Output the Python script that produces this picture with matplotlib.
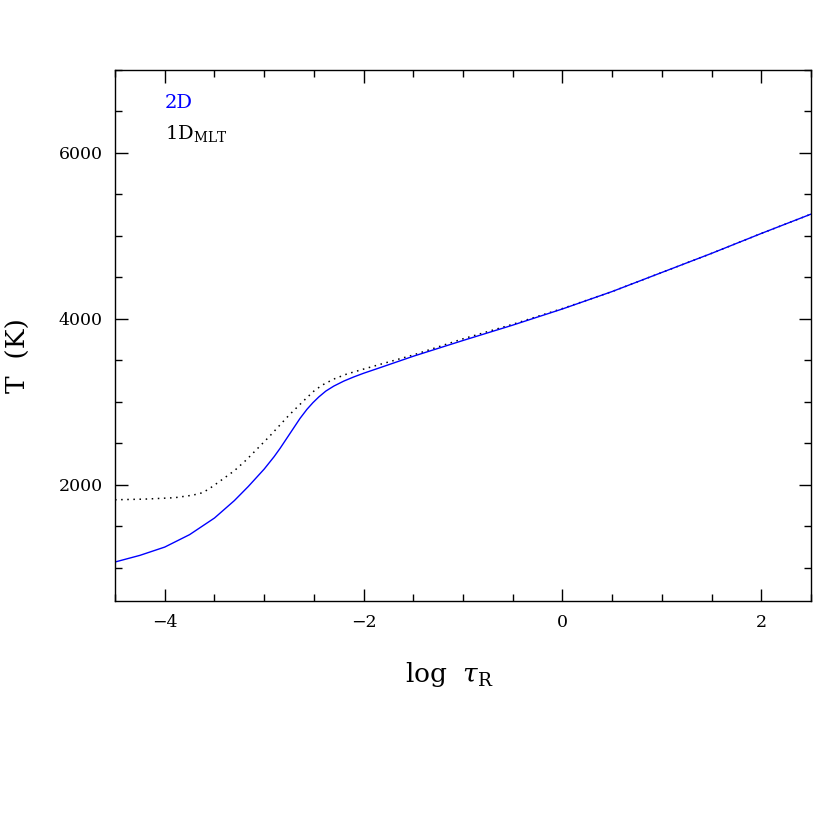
import numpy as np
import matplotlib
matplotlib.use("Agg")
import matplotlib.pyplot as plt
from matplotlib.ticker import MultipleLocator

plt.rcParams['font.family'] = ['DejaVu Serif']
plt.rcParams['mathtext.fontset'] = 'dejavuserif'

# 2D model (blue, solid)
logtau_2d = np.array([-4.5, -4.25, -4.0, -3.75, -3.5, -3.3, -3.16, -3.0, -2.9, -2.84, -2.74,
                      -2.64, -2.57, -2.51, -2.45, -2.38, -2.3, -2.2, -2.1, -2.0, -1.84,
                      -1.5, -1.0, -0.5, 0.0, 0.5, 1.0, 1.5, 2.0, 2.5])
temp_2d = np.array([1070, 1150, 1250, 1400, 1600, 1810, 1980, 2190, 2340, 2440, 2620,
                    2800, 2910, 2990, 3060, 3130, 3190, 3250, 3300, 3345, 3410,
                    3550, 3740, 3925, 4120, 4330, 4560, 4790, 5030, 5263])

# 1D MLT model (black, dotted)
logtau_1d = np.array([-4.5, -4.2, -3.9, -3.72, -3.62, -3.55, -3.45, -3.3, -3.18,
                      -2.95, -2.75, -2.58, -2.5, -2.42, -2.3, -2.17, -2.0, -1.84, -1.5,
                      -1.0, -0.5, 0.0, 0.5, 1.0, 1.5, 2.0, 2.5])
temp_1d = np.array([1820, 1828, 1845, 1875, 1905, 1955, 2040, 2170, 2300,
                    2580, 2840, 3040, 3130, 3200, 3275, 3335, 3395, 3450, 3565,
                    3760, 3935, 4125, 4330, 4560, 4790, 5030, 5263])

fig = plt.figure(figsize=(8.3, 8.3), dpi=100)
ax = fig.add_axes([0.1386, 0.2759, 0.8386, 0.6398])

ax.plot(logtau_1d, temp_1d, color='black', lw=1.1, linestyle=(0, (1, 3)))
ax.plot(logtau_2d, temp_2d, color='blue', lw=1.0)

ax.set_xlim(-4.5, 2.5)
ax.set_ylim(600, 7000)
ax.xaxis.set_major_locator(MultipleLocator(2))
ax.xaxis.set_minor_locator(MultipleLocator(0.5))
ax.yaxis.set_major_locator(MultipleLocator(2000))
ax.yaxis.set_minor_locator(MultipleLocator(500))
ax.tick_params(which='both', direction='in', top=True, right=True, labelsize=12.5, pad=9)
ax.tick_params(which='major', length=9, width=1)
ax.tick_params(which='minor', length=5, width=1)
for s in ax.spines.values():
    s.set_linewidth(1)

ax.text(0.072, 0.938, '2D', color='blue', fontsize=14, transform=ax.transAxes, va='center')
ax.text(0.072, 0.881, r'1D$_{\mathrm{MLT}}$', color='black', fontsize=14,
        transform=ax.transAxes, va='center')

fig.text(0.022, 0.572, 'T  (K)', rotation=90, fontsize=19, ha='center', va='center')
fig.text(0.542, 0.187, r'log  $\tau_{\mathrm{R}}$', fontsize=19, ha='center', va='center')

fig.savefig('out.png', dpi=100)
